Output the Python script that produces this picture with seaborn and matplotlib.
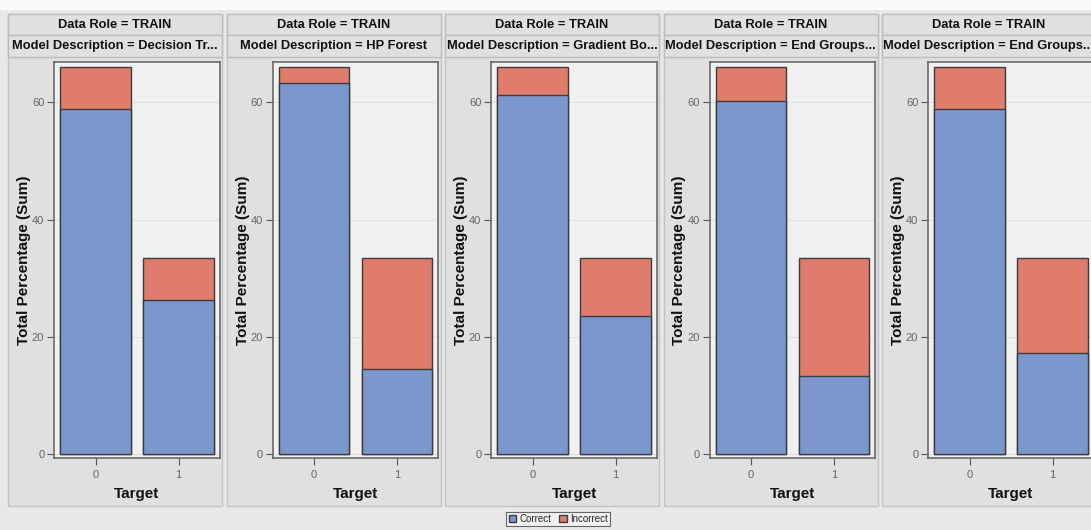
import numpy as np
import pandas as pd
import matplotlib
matplotlib.use("Agg")
import matplotlib.pyplot as plt
from matplotlib.patches import Rectangle, Patch
import seaborn as sns

# ---- data ----
models = ["Decision Tr...", "HP Forest", "Gradient Bo...", "End Groups...", "End Groups.."]
targets = ["0", "1"]
target_total = [66.1, 33.4]
correct_0 = [58.8, 63.3, 61.2, 60.3, 58.8]
correct_1 = [26.3, 14.6, 23.6, 13.3, 17.3]
yticks = [0, 20, 40, 60]

BLUE = "#7C97CE"
RED = "#E07C6C"
EDGE = "#3c3c3c"

sns.set_theme(style="white")
plt.rcParams['font.family'] = ['Liberation Sans', 'DejaVu Sans']

W, H = 1091, 530
fig = plt.figure(figsize=(W / 100, H / 100), dpi=100)
fig.patch.set_facecolor("#e8e8e8")

def fx(x):
    return x / W

def fy(y):
    return 1 - y / H

# white strip at top
fig.patches.append(Rectangle((0, fy(10)), 1, 10 / H, transform=fig.transFigure,
                             facecolor="#fafafa", edgecolor="none", zorder=-3))

pitch = 218.5
for i, m in enumerate(models):
    px = 8 + i * pitch
    pw = 214
    # panel body
    fig.patches.append(Rectangle((fx(px), fy(506)), pw / W, (506 - 14) / H,
                                 transform=fig.transFigure, facecolor="#e0e0e0",
                                 edgecolor="#c4c4c4", linewidth=1, zorder=-2))
    # header strips
    for (y0, y1, txt) in [(14, 35, "Data Role = TRAIN"), (35, 57, "Model Description = " + m)]:
        fig.patches.append(Rectangle((fx(px), fy(y1)), pw / W, (y1 - y0) / H,
                                     transform=fig.transFigure, facecolor="#e0e0e0",
                                     edgecolor="#bcbcbc", linewidth=1, zorder=-1))
        cx = px + pw / 2
        if i == len(models) - 1 and y0 == 35:
            cx -= 2
        fig.text(fx(cx), fy((y0 + y1) / 2), txt, ha="center", va="center",
                 fontsize=9.3, fontweight="bold", color="#111111", zorder=2)

    ax = fig.add_axes([fx(54 + i * pitch), fy(458), 166 / W, (458 - 62) / H])
    ax.set_zorder(1)
    ax.set_facecolor("#f0f0f0")
    df_tot = pd.DataFrame({"Target": targets, "Pct": target_total})
    df_cor = pd.DataFrame({"Target": targets, "Pct": [correct_0[i], correct_1[i]]})
    sns.barplot(data=df_tot, x="Target", y="Pct", order=targets, color=RED, width=0.85,
                edgecolor=EDGE, linewidth=1, saturation=1, ax=ax, zorder=3)
    sns.barplot(data=df_cor, x="Target", y="Pct", order=targets, color=BLUE, width=0.85,
                edgecolor=EDGE, linewidth=1, saturation=1, ax=ax, zorder=4)
    ax.set_xlim(-0.5, 1.5)
    ax.set_ylim(-0.63, 66.9)
    ax.set_yticks(yticks)
    ax.set_yticklabels([str(t) for t in yticks])
    ax.grid(axis="y", color="#e0e0e0", linewidth=0.8, zorder=0)
    ax.set_axisbelow(True)
    for s in ax.spines.values():
        s.set_color("#6a6a6a")
        s.set_linewidth(1.2)
    ax.tick_params(axis="both", which="both", left=True, bottom=True, length=5, width=0.8,
                   color="#555555", labelcolor="#666666", labelsize=8, pad=2)
    ax.tick_params(axis="x", pad=4)
    ax.set_xlabel("Target", fontsize=11, fontweight="bold", color="#111111")
    ax.set_ylabel("Total Percentage (Sum)", fontsize=11, fontweight="bold", color="#111111")
    ax.xaxis.set_label_coords(0.5, -29 / 396)
    ax.yaxis.set_label_coords(-23 / 166, 0.5)

handles = [Patch(facecolor=BLUE, edgecolor=EDGE, label="Correct"),
           Patch(facecolor=RED, edgecolor=EDGE, label="Incorrect")]
leg = fig.legend(handles=handles, loc="center", bbox_to_anchor=(fx(558), fy(519)), ncol=2,
                 fontsize=7, frameon=True, handlelength=0.8, handleheight=0.8,
                 handletextpad=0.3, columnspacing=0.8, borderpad=0.25, fancybox=False)
leg.get_frame().set_edgecolor("#444444")
leg.get_frame().set_facecolor("#f4f4f4")
leg.get_frame().set_linewidth(0.8)

fig.savefig("out.png", dpi=100, facecolor=fig.get_facecolor())
